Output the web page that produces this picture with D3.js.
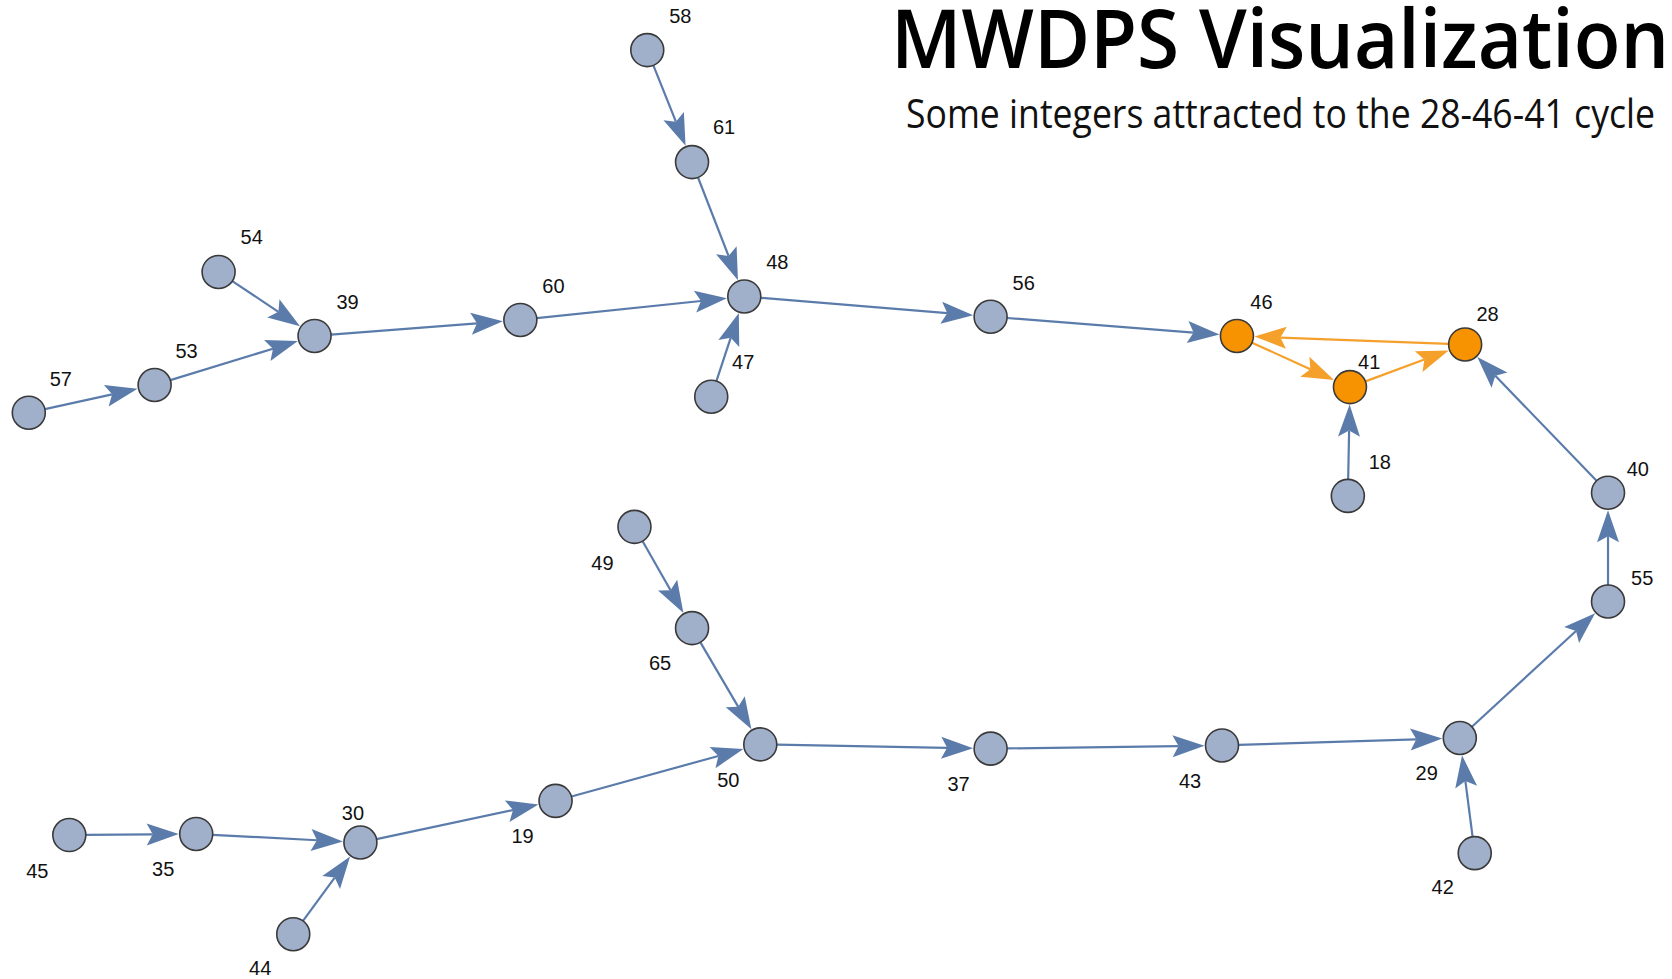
<!DOCTYPE html>
<html>
<head>
<meta charset="utf-8">
<script src="https://cdn.jsdelivr.net/npm/d3@7"></script>
<style>
html, body { margin: 0; padding: 0; background: #fff; }
svg { display: block; }
</style>
</head>
<body>
<svg id="chart" width="1672" height="979"></svg>
<script>
// node ids and layout positions (layout units)
var nodeIds = [58, 61, 48, 47, 54, 39, 53, 57, 60, 56, 46, 41, 28, 18, 40, 55, 29, 42, 43, 37, 50, 65, 49, 19, 30, 35, 45, 44];
var nodeX   = [607, 649, 698, 667, 205, 295, 145, 27, 488, 929, 1160, 1266, 1374, 1264, 1508, 1508, 1369, 1383, 1146, 929, 713, 649, 595, 521, 338, 184, 65, 275];
var nodeY   = [47, 152, 278, 372, 255, 315, 361, 387, 300, 297, 315, 363, 323, 465, 462, 564, 692, 800, 699, 702, 698, 589, 494, 751, 790, 782, 783, 876];
// where each label sits relative to its node
var labelDx = [31, 30, 31, 30, 31, 31, 30, 30, 31, 31, 23, 18, 21, 30, 28, 32, -31, -30, -30, -30, -30, -30, -30, -31, -7, -31, -30, -31];
var labelDy = [-32, -33, -32, -33, -33, -32, -32, -32, -32, -32, -32, -24, -29, -32, -22, -22, 33, 32, 33, 33, 33, 33, 34, 33, -28, 33, 34, 32];

// each integer maps to the next one
var edgeFrom = [58, 61, 47, 60, 48, 56, 54, 53, 57, 39, 46, 41, 28, 18, 40, 55, 29, 42, 43, 37, 50, 65, 49, 19, 30, 35, 45, 44];
var edgeTo   = [61, 48, 48, 48, 56, 46, 39, 39, 53, 60, 41, 28, 46, 41, 28, 40, 55, 29, 29, 43, 37, 50, 65, 50, 19, 30, 35, 30];
var cycle = [28, 46, 41];

var titleText = "MWDPS Visualization";
var subtitleText = "Some integers attracted to the 28-46-41 cycle";

var svg = d3.select("#chart");
var W = 1672, H = 979;

var x = d3.scaleLinear().domain([0, 1568]).range([0, W]);
var y = d3.scaleLinear().domain([0, 918]).range([0, H]);

var nodes = nodeIds.map(function (id, i) {
	return { id: id, x: x(nodeX[i]), y: y(nodeY[i]), ldx: labelDx[i] * W / 1568, ldy: labelDy[i] * H / 918 };
});
var byId = {};
nodes.forEach(function (n) { byId[n.id] = n; });

var links = edgeFrom.map(function (f, i) {
	return { source: byId[f], target: byId[edgeTo[i]], inCycle: cycle.indexOf(f) >= 0 && cycle.indexOf(edgeTo[i]) >= 0 };
});

var r = 16.5;
var headLen = 32, headHalf = 11, notch = 6;
var blue = "#5b7cab", orangeEdge = "#f6a02c";

var edgeG = svg.append("g");

links.forEach(function (l) {
	var dx = l.target.x - l.source.x, dy = l.target.y - l.source.y;
	var len = Math.sqrt(dx * dx + dy * dy);
	var ux = dx / len, uy = dy / len;
	var px = -uy, py = ux;
	var tipX = l.target.x - ux * (r + 1), tipY = l.target.y - uy * (r + 1);
	var baseX = tipX - ux * headLen, baseY = tipY - uy * headLen;
	var col = l.inCycle ? orangeEdge : blue;

	edgeG.append("line")
	.attr("x1", l.source.x + ux * r)
	.attr("y1", l.source.y + uy * r)
	.attr("x2", baseX + ux * notch)
	.attr("y2", baseY + uy * notch)
	.style("stroke", col)
	.style("stroke-width", 2.2);

	edgeG.append("path")
	.attr("d", d3.line()([
		[tipX, tipY],
		[baseX + px * headHalf, baseY + py * headHalf],
		[baseX + ux * notch, baseY + uy * notch],
		[baseX - px * headHalf, baseY - py * headHalf]
	]) + "Z")
	.style("fill", col);
});

var nodeG = svg.append("g");

nodeG.selectAll("circle")
.data(nodes)
.enter()
.append("circle")
.attr("cx", function (d) { return d.x; })
.attr("cy", function (d) { return d.y; })
.attr("r", r)
.style("fill", function (d) { return cycle.indexOf(d.id) >= 0 ? "#f79300" : "#a0afca"; })
.style("stroke", "#3a3a3a")
.style("stroke-width", 1.6);

nodeG.selectAll("text")
.data(nodes)
.enter()
.append("text")
.attr("x", function (d) { return d.x + d.ldx; })
.attr("y", function (d) { return d.y + d.ldy; })
.attr("text-anchor", "middle")
.attr("dominant-baseline", "central")
.style("font-family", "'Liberation Sans', Arial, sans-serif")
.style("font-size", "20px")
.style("fill", "#111")
.text(function (d) { return d.id; });

svg.append("text")
.attr("x", 1669)
.attr("y", 68)
.attr("text-anchor", "end")
.attr("textLength", 778)
.attr("lengthAdjust", "spacingAndGlyphs")
.style("font-family", "'Open Sans', 'Noto Sans', sans-serif")
.style("font-weight", 600)
.style("font-size", "82px")
.style("fill", "#000")
.text(titleText);

svg.append("text")
.attr("x", 1655)
.attr("y", 128)
.attr("text-anchor", "end")
.attr("textLength", 749)
.attr("lengthAdjust", "spacingAndGlyphs")
.style("font-family", "'Open Sans', 'Noto Sans', sans-serif")
.style("font-size", "40px")
.style("fill", "#111")
.text(subtitleText);
</script>
</body>
</html>
